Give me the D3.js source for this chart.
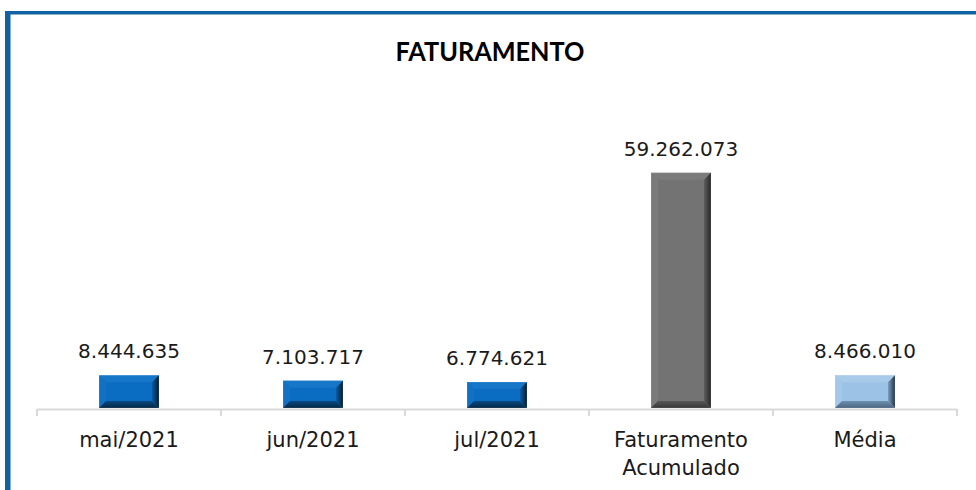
<!DOCTYPE html>
<html>
<head>
<meta charset="utf-8">
<script src="https://cdn.jsdelivr.net/npm/d3@7"></script>
<style>
  html, body { margin: 0; padding: 0; background: #fff; }
  svg { display: block; }
</style>
</head>
<body>
<div id="container"></div>
<script>
// data
const categories = ["mai/2021", "jun/2021", "jul/2021", "Faturamento\nAcumulado", "Média"];
const values = [8444635, 7103717, 6774621, 59262073, 8466010];
const barKinds = ["month", "month", "month", "total", "average"];
const chartTitle = "FATURAMENTO";

const width = 976, height = 490;

// bevel palettes
const palettes = {
  month:   { face: "#0b6dc2", top: "#1676c8", left: "#1371c5", rightIn: "#0a5da6", rightOut: "#051a30", botIn: "#074a82", botOut: "#052843" },
  total:   { face: "#737373", top: "#7b7b7b", left: "#7a7a7a", rightIn: "#5e5e5e", rightOut: "#282828", botIn: "#575757", botOut: "#383838" },
  average: { face: "#9cc3e6", top: "#a8cbea", left: "#a4c8e9", rightIn: "#7b9fc2", rightOut: "#22344a", botIn: "#6d8fae", botOut: "#4b6580" }
};

const fmt = v => d3.format(",")(v).replace(/,/g, ".");

const svg = d3.select("#container").append("svg")
  .attr("width", width)
  .attr("height", height);

// frame (only left and top edges visible)
svg.append("rect").attr("x", 5).attr("y", 11).attr("width", 5.5).attr("height", height - 11).attr("fill", "#1262a3");
svg.append("rect").attr("x", 5).attr("y", 11).attr("width", width - 5).attr("height", 3.5).attr("fill", "#1262a3");

svg.append("text")
  .attr("x", 490)
  .attr("y", 61)
  .attr("text-anchor", "middle")
  .attr("font-family", "Lato, 'Open Sans', sans-serif")
  .attr("font-weight", "bold")
  .attr("font-size", 27)
  .attr("textLength", 189)
  .attr("lengthAdjust", "spacingAndGlyphs")
  .attr("fill", "#000")
  .text(chartTitle);

const x = d3.scaleBand()
  .domain(categories)
  .range([37, 957])
  .paddingInner(0)
  .paddingOuter(0);

const y = d3.scaleLinear()
  .domain([0, 70000000])
  .range([409, 130]);

const defs = svg.append("defs");
Object.entries(palettes).forEach(([k, p]) => {
  const gr = defs.append("linearGradient").attr("id", "r-" + k).attr("x1", 0).attr("x2", 1).attr("y1", 0).attr("y2", 0);
  gr.append("stop").attr("offset", 0).attr("stop-color", p.rightIn);
  gr.append("stop").attr("offset", 1).attr("stop-color", p.rightOut);
  const gb = defs.append("linearGradient").attr("id", "b-" + k).attr("x1", 0).attr("x2", 0).attr("y1", 0).attr("y2", 1);
  gb.append("stop").attr("offset", 0).attr("stop-color", p.botIn);
  gb.append("stop").attr("offset", 1).attr("stop-color", p.botOut);
});

const barW = x.bandwidth() * 0.326;
const bev = 7;
const data = categories.map((c, i) => ({ cat: c, value: values[i], kind: barKinds[i] }));

svg.append("g").selectAll("g")
  .data(data)
  .join("g")
  .each(function (d) {
    const g = d3.select(this);
    const p = palettes[d.kind];
    const x0 = x(d.cat) + (x.bandwidth() - barW) / 2, x1 = x0 + barW;
    const y0 = y(d.value), y1 = y(0) - 1;
    const b = Math.min(bev, (y1 - y0) / 2);
    const pts = a => a.map(q => q.join(",")).join(" ");
    g.append("rect").attr("x", x0).attr("y", y0).attr("width", barW).attr("height", y1 - y0).attr("fill", p.face);
    g.append("polygon").attr("points", pts([[x0, y0], [x1, y0], [x1 - b, y0 + b], [x0 + b, y0 + b]])).attr("fill", p.top);
    g.append("polygon").attr("points", pts([[x0, y0], [x0 + b, y0 + b], [x0 + b, y1 - b], [x0, y1]])).attr("fill", p.left);
    g.append("polygon").attr("points", pts([[x1, y0], [x1, y1], [x1 - b, y1 - b], [x1 - b, y0 + b]])).attr("fill", `url(#r-${d.kind})`);
    g.append("polygon").attr("points", pts([[x0, y1], [x0 + b, y1 - b], [x1 - b, y1 - b], [x1, y1]])).attr("fill", `url(#b-${d.kind})`);
    g.append("rect").attr("x", x0).attr("y", y0).attr("width", barW).attr("height", y1 - y0)
      .attr("fill", "none").attr("stroke", "rgba(255,255,255,0.25)").attr("stroke-width", 0.6);
  });

// value labels
svg.append("g").selectAll("text")
  .data(data)
  .join("text")
  .attr("x", d => x(d.cat) + x.bandwidth() / 2)
  .attr("y", d => y(d.value) - 17)
  .attr("text-anchor", "middle")
  .attr("font-family", "'DejaVu Sans', sans-serif")
  .attr("font-size", 20)
  .attr("fill", "#1a1a1a")
  .text(d => fmt(d.value));

// axis line with ticks on band edges
const axisG = svg.append("g");
axisG.append("line")
  .attr("x1", 37).attr("x2", 957)
  .attr("y1", 409.5).attr("y2", 409.5)
  .attr("stroke", "#d9d9d9").attr("stroke-width", 2);
axisG.selectAll("line.tk")
  .data(categories.map(c => x(c)).concat([x.range()[1]]))
  .join("line")
  .attr("class", "tk")
  .attr("x1", d => d).attr("x2", d => d)
  .attr("y1", 409).attr("y2", 416)
  .attr("stroke", "#d9d9d9").attr("stroke-width", 2);

// category labels via d3 axis
const xAxis = svg.append("g")
  .attr("transform", "translate(0,409)")
  .call(d3.axisBottom(x).tickSize(0).tickPadding(0))
  .call(g => g.select(".domain").remove());

xAxis.selectAll("text").each(function (d) {
  const t = d3.select(this);
  const lines = d.split("\n");
  t.text(null)
    .attr("y", 0)
    .attr("dy", null)
    .attr("font-family", "'DejaVu Sans', sans-serif")
    .attr("font-size", 21)
    .attr("fill", "#1a1a1a");
  lines.forEach((ln, i) => {
    t.append("tspan").attr("x", 0).attr("y", 38 + i * 28).text(ln);
  });
});
</script>
</body>
</html>
